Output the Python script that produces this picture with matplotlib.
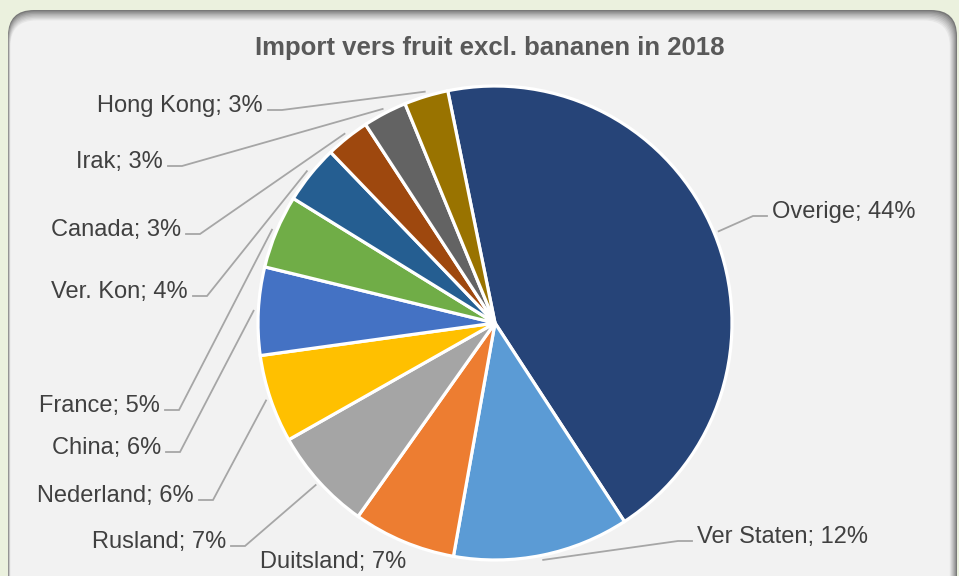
import numpy as np
import matplotlib.pyplot as plt
from matplotlib.patches import FancyBboxPatch

plt.rcParams['font.family'] = ['Liberation Sans', 'DejaVu Sans']

# data (clockwise from the Overige slice)
landen = ["Overige", "Ver Staten", "Duitsland", "Rusland", "Nederland", "China",
          "France", "Ver. Kon", "Canada", "Irak", "Hong Kong"]
aandeel = [44, 12, 7, 7, 6, 6, 5, 4, 3, 3, 3]
kleuren = ['#264478', '#5B9BD5', '#ED7D31', '#A5A5A5', '#FFC000', '#4472C4',
           '#70AD47', '#255E91', '#9E480E', '#636363', '#997300']

W, H = 959, 576
fig = plt.figure(figsize=(W / 100, H / 100), dpi=100, facecolor='#EBF1DE')
ax = fig.add_axes([0, 0, 1, 1])
ax.set_xlim(0, W)
ax.set_ylim(0, H)
ax.axis('off')

def py(y):
    # pixel row -> data y
    return H - y

# rounded panel with a soft inner shadow at top/right
n = 9
for i in range(n):
    t = i / (n - 1)
    g = 0.47 + (0.949 - 0.47) * t ** 0.8
    x0 = 8 + i * 0.3
    x1 = 957 - i * 0.9
    ytop = 10 + i * 1.3
    box = FancyBboxPatch((x0, py(620)), x1 - x0, py(ytop) - py(620),
                         boxstyle="round,pad=0,rounding_size=26",
                         facecolor=(g, g, g), edgecolor='none', zorder=0)
    ax.add_patch(box)

cx, cy, r = 495, py(323), 237
start = 101.5
wedges, _ = ax.pie(aandeel, colors=kleuren, startangle=start, counterclock=False,
                   center=(cx, cy), radius=r, frame=True,
                   wedgeprops=dict(edgecolor='white', linewidth=2.3))
ax.set_xlim(0, W)
ax.set_ylim(0, H)
ax.set_aspect('equal', adjustable='datalim')
ax.axis('off')

ax.text(490, py(55), "Import vers fruit excl. bananen in 2018", ha='center',
        va='baseline', fontsize=18.5, fontweight='bold', color='#595959')

# label layout: text anchor x, baseline y (pixels), side
label_x = [772, 697, 260, 226, 194, 161, 160, 188, 181, 163, 263]
label_y = [218, 543, 568, 548, 502, 454, 412, 298, 236, 168, 112]
label_ha = ['left', 'left', 'left', 'right', 'right', 'right', 'right',
            'right', 'right', 'right', 'right']

cum = np.cumsum([0] + aandeel[:-1])
for i, naam in enumerate(landen):
    tekst = f"{naam}; {aandeel[i]}%"
    ax.text(label_x[i], py(label_y[i]), tekst, ha=label_ha[i], va='baseline',
            fontsize=17, color='#404040')
    if naam == "Duitsland":
        continue
    mid = np.deg2rad(start - (cum[i] + aandeel[i] / 2) / 100 * 360)
    ex = cx + 1.02 * r * np.cos(mid)
    ey = cy + 1.02 * r * np.sin(mid)
    ty = py(label_y[i] - 2)
    if label_ha[i] == 'right':
        t0, t1 = label_x[i] + 5, label_x[i] + 19
    else:
        t0, t1 = label_x[i] - 5, label_x[i] - 19
    ax.plot([t0, t1, ex], [ty, ty, ey], color='#A6A6A6', lw=1.3,
            solid_joinstyle='miter', zorder=1)

fig.savefig('out.png', dpi=100, facecolor=fig.get_facecolor())
